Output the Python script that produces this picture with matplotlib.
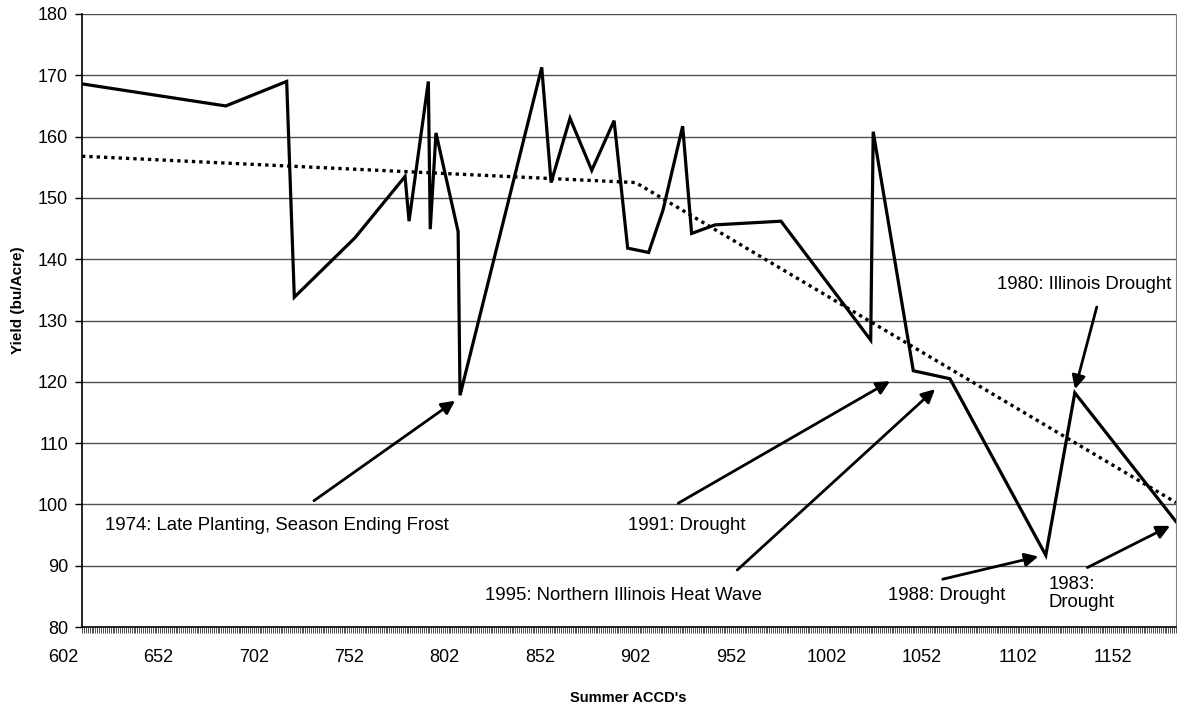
import matplotlib
matplotlib.use("Agg")
import matplotlib.pyplot as plt
import numpy as np

plt.rcParams['font.family'] = ['Liberation Sans', 'DejaVu Sans']

# Data
accd = [612.0, 687.3, 719.2, 723.2, 755.0, 781.2, 783.3, 793.4, 794.4, 797.4,
        809.0, 810.0, 852.8, 857.7, 867.6, 879.0, 890.7, 897.8, 908.8, 916.3,
        926.6, 931.3, 943.6, 978.1, 1025.1, 1026.4, 1047.4, 1066.6, 1116.8,
        1132.0, 1185.0]
yield_bu = [168.6, 165.0, 169.0, 133.8, 143.5, 153.5, 146.2, 169.0, 144.9, 160.6,
            144.5, 117.8, 171.3, 152.5, 163.0, 154.5, 162.6, 141.8, 141.1, 148.0,
            161.7, 144.2, 145.6, 146.2, 126.8, 160.8, 121.8, 120.5, 91.7,
            118.2, 97.2]
trend_x = [612.0, 902.0, 1185.0]
trend_y = [156.8, 152.5, 100.3]

x_ticks = [602, 652, 702, 752, 802, 852, 902, 952, 1002, 1052, 1102, 1152]
y_ticks = [80, 90, 100, 110, 120, 130, 140, 150, 160, 170, 180]

notes = [
    ("1974: Late Planting, Season Ending Frost", (624.0, 96.5), (733.5, 100.6), (807.4, 116.9)),
    ("1991: Drought", (898.2, 96.5), (924.3, 100.2), (1035.2, 120.1)),
    ("1995: Northern Illinois Heat Wave", (823.1, 85.2), (955.2, 89.3), (1058.8, 118.8)),
    ("1988: Drought", (1034.3, 85.2), (1062.8, 87.8), (1112.9, 91.5)),
    ("1983:\nDrought", (1118.1, 85.5), (1138.6, 89.7), (1181.9, 96.5)),
    ("1980: Illinois Drought", (1091.1, 135.9), (1143.5, 132.2), (1132.1, 118.8)),
]

fig = plt.figure(figsize=(11.77, 7.09), dpi=100)
ax = fig.add_axes([82/1177, 1-627/709, (1176-82)/1177, (627-14)/709])

xmin, xmax = 612, 1185
ax.set_xlim(xmin, xmax)
ax.set_ylim(80, 180)

for yv in y_ticks[1:]:
    ax.axhline(yv, color='#505050', lw=1.0, zorder=1)

ax.plot(trend_x, trend_y, color='black', lw=2.4, linestyle=(0, (1, 1.2)), zorder=2)
ax.plot(accd, yield_bu, color='black', lw=2.3, zorder=3, solid_joinstyle='miter')

for text, tpos, tail, head in notes:
    ax.text(tpos[0], tpos[1], text, fontsize=13.4, ha='left', va='center',
            linespacing=1.1, zorder=4)
    ax.annotate('', xy=head, xytext=tail,
                arrowprops=dict(arrowstyle='-|>', color='black', lw=2.0,
                                mutation_scale=20, shrinkA=0, shrinkB=0),
                zorder=4)

ax.set_yticks(y_ticks)
ax.set_yticklabels([str(v) for v in y_ticks], fontsize=13)
ax.tick_params(axis='y', direction='out', length=5, width=1, pad=5)

major = [t for t in x_ticks if t >= xmin]
ax.set_xticks(major)
ax.set_xticklabels([str(t) for t in major], fontsize=13)
ax.set_xticks(np.arange(xmin, xmax + 1, 1), minor=True)
ax.tick_params(axis='x', which='both', direction='out', length=4, width=0.6,
               color='#333333', pad=12)
ax.text(x_ticks[0], -0.0, str(x_ticks[0]), transform=ax.get_xaxis_transform(),
        fontsize=13, ha='center', va='top', clip_on=False)
fig.canvas.draw()
lbl = ax.get_xticklabels()[0]
bb = lbl.get_window_extent()
inv = ax.transAxes.inverted()
ytop = inv.transform((0, bb.y1))[1]
ax.texts[-1].set_position((x_ticks[0], ytop))

ax.spines['top'].set_visible(False)
ax.spines['right'].set_color('#808080')
ax.spines['left'].set_linewidth(1.2)
ax.spines['bottom'].set_linewidth(1.2)

fig.text(18/1177, 1-300/709, 'Yield (bu/Acre)', rotation=90, fontsize=11,
         fontweight='bold', ha='center', va='center')
fig.text(0.5 + 40/1177, 1-698/709, "Summer ACCD's", fontsize=10.5,
         fontweight='bold', ha='center', va='center')

fig.savefig('out.png', dpi=100)
